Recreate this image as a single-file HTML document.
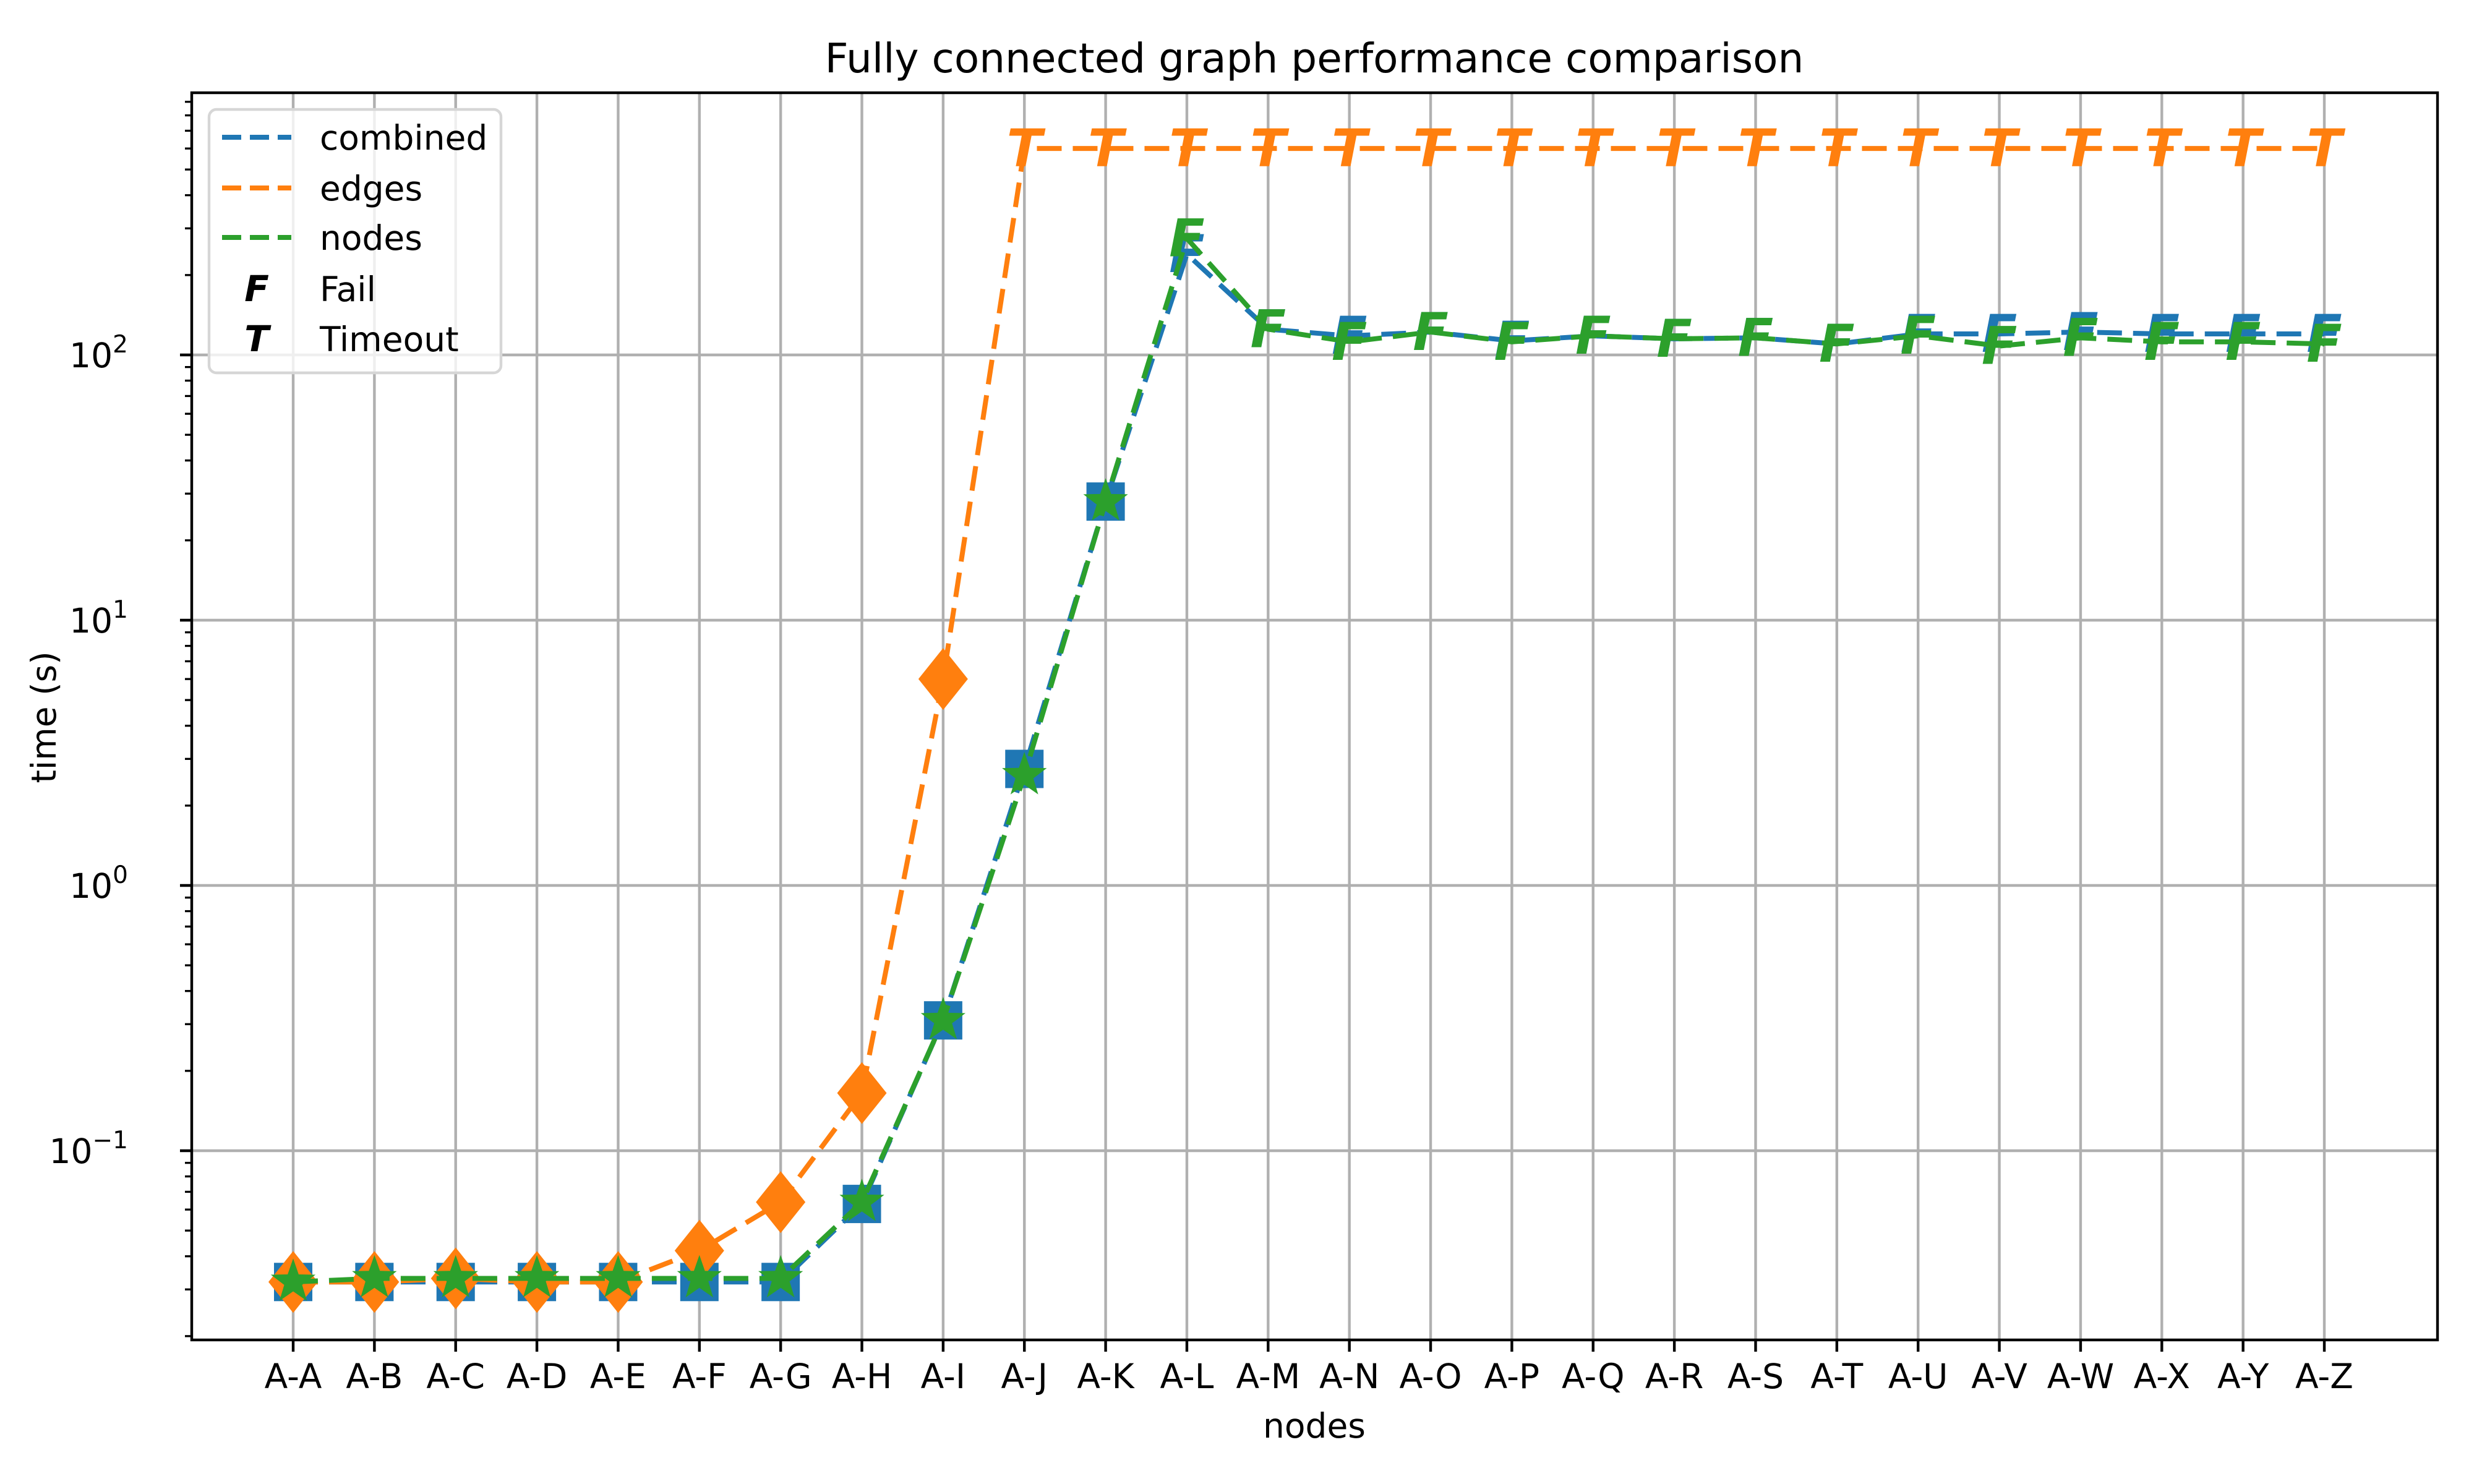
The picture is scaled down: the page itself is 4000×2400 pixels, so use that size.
<!DOCTYPE html>
<html><head><meta charset="utf-8"><style>
html,body{margin:0;padding:0;background:#fff;}
svg{display:block;}
text{font-family:"DejaVu Sans","Liberation Sans",sans-serif;}
</style></head><body>
<svg id="chart" width="4000" height="2400" viewBox="0 0 4000 2400" xmlns="http://www.w3.org/2000/svg">
<rect x="0" y="0" width="4000" height="2400" fill="#fff"/>
<text x="2125" y="117" font-size="66" text-anchor="middle">Fully connected graph performance comparison</text>
<text x="2125" y="2325" font-size="55" text-anchor="middle">nodes</text>
<text x="0" y="0" font-size="55" text-anchor="middle" transform="translate(90,1160) rotate(-90)">time (s)</text>
<g id="grid"></g>
<g id="series"></g>
<g id="axes"></g>
<g id="legend"></g>
</svg>
<script>
const categories = ["A-A","A-B","A-C","A-D","A-E","A-F","A-G","A-H","A-I","A-J","A-K","A-L","A-M","A-N","A-O","A-P","A-Q","A-R","A-S","A-T","A-U","A-V","A-W","A-X","A-Y","A-Z"];
const combinedValues = [0.032,0.032,0.032,0.032,0.032,0.032,0.032,0.063,0.31,2.75,28,240,125,118,122,113,118,115,116,110,120,120,122,120,120,120];
const combinedStatus = ["ok","ok","ok","ok","ok","ok","ok","ok","ok","ok","ok","F","F","F","F","F","F","F","F","F","F","F","F","F","F","F"];
const edgesValues = [0.032,0.032,0.033,0.032,0.032,0.042,0.064,0.165,6.0,600,600,600,600,600,600,600,600,600,600,600,600,600,600,600,600,600];
const edgesStatus = ["ok","ok","ok","ok","ok","ok","ok","ok","ok","T","T","T","T","T","T","T","T","T","T","T","T","T","T","T","T","T"];
const nodesValues = [0.032,0.033,0.033,0.033,0.033,0.033,0.033,0.064,0.31,2.6,28,275,125,112,122,112,118,115,116,110,118,108,116,112,112,110];
const nodesStatus = ["ok","ok","ok","ok","ok","ok","ok","ok","ok","ok","ok","F","F","F","F","F","F","F","F","F","F","F","F","F","F","F"];
const yTickExps = [-1,0,1,2];

const NS="http://www.w3.org/2000/svg";
const L=310,R=3941,T=150,B=2167;
const X0=474,DX=(3758-474)/25;
const Y2=574,DEC=(1861-574)/3;
function xs(i){return X0+i*DX;}
function ys(v){return Y2-(Math.log10(v)-2)*DEC;}
function mk(tag,attrs,parent){const e=document.createElementNS(NS,tag);for(const k in attrs)e.setAttribute(k,attrs[k]);parent.appendChild(e);return e;}
const grid=document.getElementById('grid'),ser=document.getElementById('series'),ax=document.getElementById('axes'),leg=document.getElementById('legend');

categories.forEach((c,i)=>{
  const g=mk('line',{x1:xs(i),x2:xs(i),y1:T,y2:B,stroke:'#b0b0b0','stroke-width':4.4},grid);
  
  
});
yTickExps.forEach(e=>{
  const g=mk('line',{x1:L,x2:R,y1:ys(Math.pow(10,e)),y2:ys(Math.pow(10,e)),stroke:'#b0b0b0','stroke-width':4.4},grid);
  
  
});

function drawSeries(name,vals,status,color,marker,msize){
  const pts=vals.map((v,i)=>xs(i)+','+ys(v)).join(' ');
  const pl=mk('polyline',{points:pts,fill:'none',stroke:color,'stroke-width':8,'stroke-dasharray':'40,18'},ser);
  
  
  vals.forEach((v,i)=>{
    const x=xs(i),y=ys(v);let m;
    if(status[i]==='ok'){
      if(marker==='square'){m=mk('rect',{x:x-msize/2,y:y-msize/2,width:msize,height:msize,fill:color},ser);}
      else if(marker==='diamond'){m=mk('polygon',{points:`${x},${y-msize} ${x+msize*0.8},${y} ${x},${y+msize} ${x-msize*0.8},${y}`,fill:color},ser);}
      else {let p=[];for(let k=0;k<10;k++){const r=k%2?msize*0.4:msize;const a=-Math.PI/2+k*Math.PI/5;p.push((x+r*Math.cos(a)).toFixed(1)+','+(y+r*Math.sin(a)).toFixed(1));}m=mk('polygon',{points:p.join(' '),fill:color},ser);}
    } else {
      m=mk('text',{x:x,y:y+29,'font-size':84,'font-weight':'bold','font-style':'italic','text-anchor':'middle',fill:color},ser);
      m.textContent=status[i];
    }
    
    
  });
}
drawSeries('combined',combinedValues,combinedStatus,'#1f77b4','square',62);
drawSeries('edges',edgesValues,edgesStatus,'#ff7f0e','diamond',50);
drawSeries('nodes',nodesValues,nodesStatus,'#2ca02c','star',38);

const fr=mk('rect',{x:L,y:T,width:R-L,height:B-T,fill:'none',stroke:'#000','stroke-width':4.4},ax);


categories.forEach((c,i)=>{
  const t=mk('line',{x1:xs(i),x2:xs(i),y1:B,y2:B+19,stroke:'#000','stroke-width':4.4},ax);
  
  
  const lb=mk('text',{x:xs(i),y:B+78,'font-size':55,'text-anchor':'middle'},ax);
  lb.textContent=c;
  
  
});
for(let e=-2;e<=2;e++){for(let k=2;k<=9;k++){const v=k*Math.pow(10,e);const y=ys(v);if(y<T||y>B)continue;
  const t=mk('line',{x1:L-11,x2:L,y1:y,y2:y,stroke:'#000','stroke-width':3.3},ax);
  
  }}
yTickExps.forEach(e=>{
  const y=ys(Math.pow(10,e));
  const t=mk('line',{x1:L-19,x2:L,y1:y,y2:y,stroke:'#000','stroke-width':4.4},ax);
  
  
  const lb=mk('text',{x:207,y:y+20,'font-size':55,'text-anchor':'end'},ax);
  lb.innerHTML='10<tspan font-size="39" dy="-24">'+(e<0?'\u2212':'')+Math.abs(e)+'</tspan>';
  
  
});

const box=mk('rect',{x:338,y:177,width:472,height:426,rx:12,fill:'#fff','fill-opacity':0.8,stroke:'#d6d6d6','stroke-width':4.4},leg);


const legItems=[['combined','#1f77b4','line',222],['edges','#ff7f0e','line',304],['nodes','#2ca02c','line',384],['Fail','#000','F',467],['Timeout','#000','T',548]];
legItems.forEach(it=>{
  let h;
  if(it[2]==='line'){h=mk('line',{x1:359,x2:471,y1:it[3],y2:it[3],stroke:it[1],'stroke-width':8,'stroke-dasharray':'31,14'},leg);}
  else{h=mk('text',{x:415,y:it[3]+20,'font-size':58,'font-weight':'bold','font-style':'italic','text-anchor':'middle',fill:'#000'},leg);h.textContent=it[2];}
  
  
  const tx=mk('text',{x:517,y:it[3]+20,'font-size':55},leg);
  tx.textContent=it[0];
  
  
});
</script>
</body></html>
